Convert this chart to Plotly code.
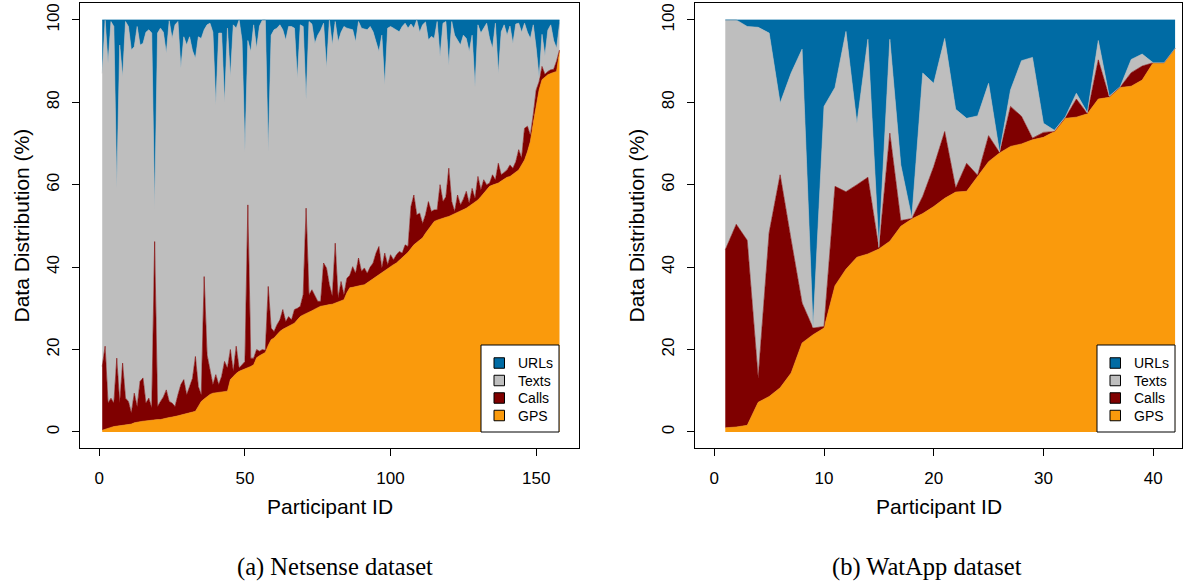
import plotly.graph_objects as go

W, H = 1187, 584

# ---------------- data: Netsense (158 participants), % of data per source
ns_ids = list(range(1, 159))
ns_gps = [0.4, 0.7, 0.9, 1.1, 1.3, 1.4, 1.5, 1.6, 1.7, 1.8,
          1.9, 2.2, 2.4, 2.5, 2.6, 2.7, 2.8, 2.9, 2.9, 3.0,
          3.0, 3.2, 3.4, 3.5, 3.6, 3.7, 3.9, 4.1, 4.3, 4.4,
          4.6, 4.8, 5.0, 6.2, 7.4, 8.0, 8.6, 9.1, 9.4, 9.5,
          9.6, 9.7, 9.8, 9.9, 12.7, 13.5, 14.2, 14.7, 15.0, 15.3,
          15.5, 15.9, 16.3, 18.0, 18.5, 19.0, 19.3, 21.0, 22.4, 22.8,
          23.6, 24.4, 24.9, 25.3, 25.6, 26.0, 26.4, 27.2, 28.0, 28.4,
          28.7, 29.0, 29.4, 29.8, 30.1, 30.5, 30.6, 30.8, 30.9, 31.0,
          31.3, 31.6, 31.9, 32.1, 33.8, 35.0, 35.1, 35.3, 35.4, 35.6,
          35.7, 36.2, 36.7, 37.2, 37.7, 38.2, 38.8, 39.3, 39.8, 40.2,
          40.6, 41.0, 41.6, 42.2, 42.8, 43.6, 44.5, 45.4, 46.0, 46.6,
          47.1, 48.2, 49.2, 50.2, 51.1, 51.4, 51.7, 51.9, 52.1, 52.3,
          52.6, 52.9, 53.3, 53.6, 54.0, 54.3, 54.8, 55.3, 55.8, 56.3,
          57.1, 57.9, 58.8, 59.6, 59.9, 60.2, 60.4, 60.9, 61.4, 61.8,
          62.0, 62.5, 63.0, 63.6, 64.8, 66.0, 68.0, 70.5, 75.0, 79.0,
          83.0, 85.5, 86.2, 86.7, 87.0, 87.3, 87.5, 92.3]
ns_calls = [15.5, 20.1, 6.1, 7.1, 5.7, 16.5, 5.5, 15.1, 6.5, 5.6,
            2.7, 7.2, 3.8, 9.8, 10.5, 4.3, 5.4, 2.9, 43.3, 3.2,
            4.4, 5.3, 6.8, 3.9, 3.4, 2.5, 5.1, 7.4, 8.4, 4.6,
            6.4, 8.2, 13.3, 4.8, 1.6, 29.7, 10.1, 6.4, 2.1, 4.4,
            1.9, 3.8, 7.3, 5.6, 7.3, 1.2, 6.6, 0.8, 1.3, 1.8,
            39.6, 2.0, 1.6, 2.0, 1.1, 1.0, 0.5, 14.3, 2.8, 1.6,
            2.4, 2.8, 4.8, 1.5, 2.4, 1.2, 3.3, 2.8, 2.5, 4.9,
            25.6, 4.3, 5.1, 3.1, 1.6, 1.2, 10.4, 9.0, 4.8, 2.0,
            14.5, 0.9, 4.6, 1.2, 3.5, 3.0, 5.0, 3.2, 6.8, 3.4,
            4.1, 2.3, 3.3, 3.8, 5.7, 6.8, 1.0, 4.1, 0.8, 2.8,
            1.2, 2.0, 2.2, 1.2, 2.6, 1.4, 10.2, 12.1, 6.7, 6.5,
            3.5, 4.5, 6.7, 3.3, 2.8, 2.5, 8.3, 4.0, 5.0, 11.7,
            3.3, 0.6, 4.2, 1.5, 2.5, 4.1, 0.7, 3.8, 0.9, 5.7,
            1.7, 3.3, 1.2, 0.8, 2.5, 1.0, 4.8, 1.5, 1.6, 1.8,
            2.8, 1.5, 2.6, 4.9, 1.7, 7.7, 6.2, 1.5, 2.0, 4.0,
            2.0, 3.2, 0.6, 0.8, 0.9, 0.7, 2.5, 0.4]
ns_texts = [71.1, 79.2, 82.5, 91.4, 91.4, 41.3, 86.9, 69.5, 91.4, 91.0,
            88.1, 84.1, 92.2, 81.6, 81.2, 90.0, 89.4, 91.0, 8.1, 90.6,
            90.6, 88.5, 81.7, 92.4, 88.5, 92.6, 90.6, 76.8, 83.2, 84.9,
            84.9, 79.5, 72.4, 84.9, 86.5, 59.9, 80.1, 83.7, 85.5, 65.5,
            85.3, 83.3, 62.7, 82.5, 66.2, 84.1, 77.2, 84.5, 78.7, 51.0,
            39.9, 74.4, 80.9, 73.1, 78.9, 80.0, 80.2, 32.7, 71.1, 73.2,
            72.0, 71.6, 67.9, 68.3, 70.4, 71.2, 68.3, 55.8, 68.3, 65.1,
            26.3, 66.3, 64.5, 61.4, 64.6, 65.8, 58.2, 48.5, 64.3, 60.9,
            53.8, 62.2, 60.5, 65.1, 60.7, 59.8, 57.5, 56.2, 57.4, 59.0,
            58.0, 59.1, 58.4, 56.1, 51.3, 47.3, 56.5, 40.8, 57.4, 55.4,
            56.2, 54.5, 53.3, 55.0, 53.8, 53.0, 44.3, 40.5, 47.3, 43.9,
            48.2, 46.8, 39.2, 42.5, 41.6, 45.7, 31.1, 43.3, 42.5, 25.0,
            43.7, 42.8, 37.5, 38.8, 39.8, 37.1, 36.8, 37.2, 27.1, 36.8,
            38.0, 36.8, 39.2, 35.1, 30.7, 38.0, 21.8, 34.7, 35.8, 32.7,
            33.7, 30.3, 33.4, 30.7, 30.5, 25.5, 22.8, 23.5, 21.8, 10.1,
            1.0, 7.8, 4.5, 10.0, 10.9, 7.0, 3.1, 6.3]
ns_urls = [13.0, 0.0, 10.5, 0.4, 1.6, 40.8, 6.1, 13.8, 0.4, 1.6,
           7.3, 6.5, 1.6, 6.1, 5.7, 3.0, 2.4, 3.2, 45.7, 3.2,
           2.0, 3.0, 8.1, 0.2, 4.5, 1.2, 0.4, 11.7, 4.1, 6.1,
           4.1, 7.5, 9.3, 4.1, 4.5, 2.4, 1.2, 0.8, 3.0, 20.6,
           3.2, 3.2, 20.2, 2.0, 13.8, 1.2, 2.0, 0.0, 5.0, 31.9,
           5.0, 7.7, 1.2, 6.9, 1.5, 0.0, 0.0, 32.0, 3.7, 2.4,
           2.0, 1.2, 2.4, 4.9, 1.6, 1.6, 2.0, 14.2, 1.2, 1.6,
           19.4, 0.4, 1.0, 5.7, 3.7, 2.5, 0.8, 11.7, 0.0, 6.1,
           0.4, 5.3, 3.0, 1.6, 2.0, 2.2, 2.4, 5.3, 0.4, 2.0,
           2.2, 2.4, 1.6, 2.9, 5.3, 7.7, 3.7, 15.8, 2.0, 1.6,
           2.0, 2.5, 2.9, 1.6, 0.8, 2.0, 1.0, 2.0, 0.0, 3.0,
           1.2, 0.5, 4.9, 4.0, 4.5, 0.4, 8.9, 0.8, 0.4, 11.0,
           0.4, 3.7, 5.0, 6.1, 3.7, 4.5, 7.7, 3.7, 16.2, 1.2,
           3.2, 2.0, 0.8, 4.5, 6.9, 0.8, 13.0, 2.9, 1.2, 3.7,
           1.5, 5.7, 1.0, 0.8, 3.0, 0.8, 3.0, 4.5, 1.2, 6.9,
           14.0, 3.5, 8.7, 2.5, 1.2, 5.0, 6.9, 1.0]

# ---------------- data: WatApp (42 participants)
wa_ids = list(range(1, 43))
wa_gps = [1.0, 1.2, 1.6, 7.2, 8.6, 10.7, 14.3, 21.6, 23.6, 25.2,
          35.5, 39.5, 42.4, 43.2, 44.4, 46.3, 49.9, 51.7, 53.0, 54.7,
          56.7, 58.2, 58.4, 62.0, 65.6, 67.7, 69.3, 69.9, 70.9, 71.5,
          72.9, 76.1, 76.4, 77.2, 80.8, 81.2, 83.6, 83.9, 85.4, 89.6,
          89.6, 93.1]
wa_calls = [43.2, 49.2, 44.9, 5.9, 39.8, 51.7, 32.3, 9.7, 1.6, 0.4,
            24.1, 18.8, 17.6, 18.6, 0.2, 26.2, 1.4, 0.1, 4.2, 9.7,
            16.2, 1.0, 6.8, 0.3, 6.3, 0.1, 9.7, 6.7, 0.4, 1.2,
            0.0, 0.2, 4.4, 0.1, 9.5, 0.1, 0.1, 3.3, 3.4, 0.0,
            0.0, 0.0]
wa_texts = [55.8, 49.6, 51.9, 85.1, 48.4, 17.4, 40.5, 61.6, 0.2, 53.4,
            24.0, 38.9, 14.9, 33.5, 0.2, 22.8, 13.5, 0.2, 29.9, 20.2,
            22.6, 19.1, 10.9, 14.4, 12.7, 0.1, 4.0, 13.5, 19.6, 2.2,
            0.3, 0.2, 1.4, 0.2, 4.7, 0.2, 0.1, 3.2, 2.9, 0.0,
            0.0, 0.0]
wa_urls = [0.0, 0.0, 1.6, 1.8, 3.2, 20.2, 12.9, 7.1, 74.6, 21.0,
           16.4, 2.8, 25.1, 4.7, 55.2, 4.7, 35.2, 48.0, 12.9, 15.4,
           4.5, 21.7, 23.9, 23.3, 15.4, 32.1, 17.0, 9.9, 9.1, 25.1,
           26.8, 23.5, 17.8, 22.5, 5.0, 18.5, 16.2, 9.6, 8.3, 10.4,
           10.4, 6.9]

series_names = ["GPS", "Calls", "Texts", "URLs"]
ns_ticks = [0, 50, 100, 150]
wa_ticks = [0, 10, 20, 30, 40]
y_ticks = [0, 20, 40, 60, 80, 100]

# ---------------- styling
COLORS = {"GPS": "#FA9A0C", "Calls": "#7F0000", "Texts": "#BEBEBE", "URLs": "#006BA4"}
SANS = "Liberation Sans, Arial, sans-serif"
SERIF = "Liberation Serif, Times New Roman, serif"

fig = go.Figure()
ns_vals = {"GPS": ns_gps, "Calls": ns_calls, "Texts": ns_texts, "URLs": ns_urls}
wa_vals = {"GPS": wa_gps, "Calls": wa_calls, "Texts": wa_texts, "URLs": wa_urls}
for name in series_names:
    c = COLORS[name]
    fig.add_trace(go.Scatter(x=ns_ids, y=ns_vals[name], stackgroup="ns", mode="lines",
                             line=dict(width=0.6, color=c), fillcolor=c, name=name,
                             showlegend=False, xaxis="x", yaxis="y", hoverinfo="skip"))
    fig.add_trace(go.Scatter(x=wa_ids, y=wa_vals[name], stackgroup="wa", mode="lines",
                             line=dict(width=0.6, color=c), fillcolor=c, name=name,
                             showlegend=False, xaxis="x2", yaxis="y2", hoverinfo="skip"))

def px(x):
    return x / W

def py(y):
    return 1 - y / H

box_top, box_bot = 3, 448
axis_common = dict(showgrid=False, zeroline=False, showline=True, mirror=True,
                   linecolor="black", linewidth=1, ticks="outside", ticklen=7,
                   tickcolor="black", tickwidth=1,
                   tickfont=dict(family=SANS, size=17, color="black"))

fig.update_layout(
    width=W, height=H, margin=dict(l=0, r=0, t=0, b=0),
    paper_bgcolor="white", plot_bgcolor="white", showlegend=False,
    xaxis=dict(domain=[px(80), px(579)], range=[-6.63, 164.7], tickvals=ns_ticks,
               anchor="y", ticklabelstandoff=8, **axis_common),
    yaxis=dict(domain=[py(box_bot), py(box_top)], range=[-3.9, 104.1], tickvals=y_ticks,
               tickangle=-90, anchor="x", ticklabelstandoff=6, **axis_common),
    xaxis2=dict(domain=[px(695), px(1182)], range=[-1.76, 42.63], tickvals=wa_ticks,
                anchor="y2", ticklabelstandoff=8, **axis_common),
    yaxis2=dict(domain=[py(box_bot), py(box_top)], range=[-3.9, 104.1], tickvals=y_ticks,
                tickangle=-90, anchor="x2", ticklabelstandoff=6, **axis_common),
)

annotations = []
shapes = []
# axis titles
for cx in (329.5, 938.5):
    annotations.append(dict(text="Participant ID", x=px(cx), y=py(506), xref="paper", yref="paper",
                            showarrow=False, xanchor="center", yanchor="middle",
                            font=dict(family=SANS, size=21, color="black")))
for cx in (21, 636):
    annotations.append(dict(text="Data Distribution (%)", x=px(cx), y=py(225.5), xref="paper",
                            yref="paper", showarrow=False, textangle=-90, xanchor="center",
                            yanchor="middle", font=dict(family=SANS, size=21, color="black")))
# captions
for cx, txt in ((334.5, "(a) Netsense dataset"), (927, "(b) WatApp dataset")):
    annotations.append(dict(text=txt, x=px(cx), y=py(567), xref="paper", yref="paper",
                            showarrow=False, xanchor="center", yanchor="middle",
                            font=dict(family=SERIF, size=24.5, color="black")))

# legends (drawn manually, R style)
legend_order = ["URLs", "Texts", "Calls", "GPS"]
for bx0, bx1 in ((481, 559), (1097, 1175)):
    shapes.append(dict(type="rect", xref="paper", yref="paper", x0=px(bx0), x1=px(bx1),
                       y0=py(432), y1=py(345), line=dict(color="black", width=1),
                       fillcolor="white", layer="above"))
    for k, name in enumerate(legend_order):
        cy = 363 + 17.5 * k
        shapes.append(dict(type="rect", xref="paper", yref="paper",
                           x0=px(bx0 + 13), x1=px(bx0 + 23.5),
                           y0=py(cy + 5.25), y1=py(cy - 5.25),
                           line=dict(color="black", width=1), fillcolor=COLORS[name],
                           layer="above"))
        annotations.append(dict(text=name, x=px(bx0 + 35), y=py(cy), xref="paper", yref="paper",
                                showarrow=False, xanchor="left", yanchor="middle",
                                font=dict(family=SANS, size=14, color="black")))

fig.update_layout(annotations=annotations, shapes=shapes)
fig.write_html("out.html")
